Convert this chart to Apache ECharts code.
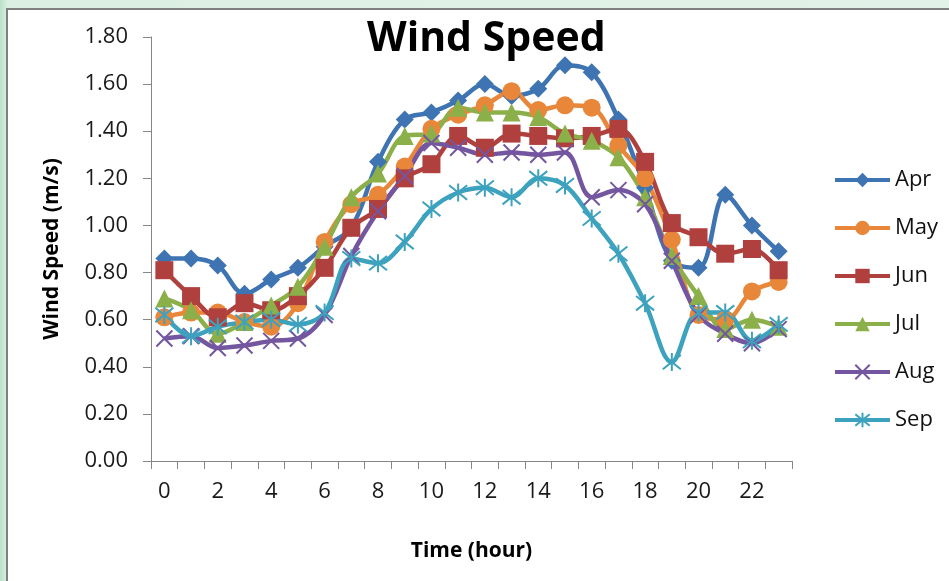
<!DOCTYPE html>
<html>
<head>
<meta charset="utf-8">
<script src="https://cdn.jsdelivr.net/npm/echarts@6/dist/echarts.min.js"></script>
<style>
  html, body { margin: 0; padding: 0; }
  body {
    width: 949px; height: 581px; overflow: hidden; position: relative;
    background: linear-gradient(to right, #b9e0c9 0px, #dcefe3 8px, #e3f2e8 100%);
  }
  #frame {
    position: absolute; left: 6px; top: 8px; width: 960px; height: 600px;
    background: #fff; border-left: 2px solid #7f7f7f; border-top: 2px solid #7f7f7f;
  }
  #chart { position: absolute; left: 0; top: 0; width: 949px; height: 581px; }
</style>
</head>
<body>
<div id="frame"></div>
<div id="chart"></div>
<script>
  // hours on the x axis
  const hours = ['0','1','2','3','4','5','6','7','8','9','10','11','12','13','14','15','16','17','18','19','20','21','22','23'];

  // wind speed per month (m/s)
  const apr = [0.86,0.86,0.83,0.71,0.77,0.82,0.91,0.99,1.27,1.45,1.48,1.53,1.60,1.55,1.58,1.68,1.65,1.45,1.16,0.85,0.82,1.13,1.00,0.89];
  const may = [0.61,0.63,0.63,0.59,0.57,0.67,0.93,1.09,1.13,1.25,1.41,1.47,1.51,1.57,1.49,1.51,1.50,1.34,1.20,0.94,0.62,0.60,0.72,0.76];
  const jun = [0.81,0.70,0.61,0.67,0.64,0.70,0.82,0.99,1.07,1.20,1.26,1.38,1.33,1.39,1.38,1.37,1.38,1.41,1.27,1.01,0.95,0.88,0.90,0.81];
  const jul = [0.69,0.64,0.54,0.59,0.66,0.74,0.91,1.12,1.22,1.38,1.39,1.50,1.48,1.48,1.46,1.39,1.36,1.29,1.12,0.87,0.70,0.56,0.60,0.57];
  const aug = [0.52,0.53,0.48,0.49,0.51,0.52,0.62,0.87,1.06,1.21,1.35,1.33,1.30,1.31,1.30,1.31,1.12,1.15,1.09,0.85,0.62,0.54,0.50,0.56];
  const sep = [0.62,0.53,0.57,0.59,0.60,0.58,0.63,0.86,0.84,0.93,1.07,1.14,1.16,1.12,1.20,1.17,1.03,0.88,0.67,0.42,0.63,0.63,0.51,0.58];

  const months = ['Apr', 'May', 'Jun', 'Jul', 'Aug', 'Sep'];
  const values = [apr, may, jun, jul, aug, sep];
  const colors = ['#3f74b3', '#e8873a', '#b0403d', '#8bb04a', '#7456a0', '#3da2be'];

  // excel-like markers: diamond, circle, square, triangle, x, star
  const xPath = 'path://M0,0 L10,10 M10,0 L0,10';
  const starPath = 'path://M1,1 L9,9 M9,1 L1,9 M5,0 L5,10';
  const symbols = ['diamond', 'circle', 'rect', 'triangle', xPath, starPath];
  const sizes = [18, 18, 18, 18, 16, 18];

  const font = '"Open Sans", "DejaVu Sans", sans-serif';

  const chart = echarts.init(document.getElementById('chart'));

  const series = months.map((m, i) => {
    const stroked = i >= 4;
    return {
      name: m,
      type: 'line',
      data: values[i],
      smooth: 0.35,
      symbol: symbols[i],
      symbolSize: sizes[i],
      showAllSymbol: true,
      lineStyle: { color: colors[i], width: 4.5 },
      itemStyle: {
        color: colors[i],
        borderColor: colors[i],
        borderWidth: stroked ? 2 : 0
      }
    };
  });

  chart.setOption({
    backgroundColor: 'transparent',
    animation: false,
    color: colors,
    title: {
      text: 'Wind Speed',
      left: 362,
      top: 14,
      textStyle: { fontFamily: font, fontSize: 41, fontWeight: 'bold', color: '#000' }
    },
    legend: {
      orient: 'vertical',
      left: 828,
      top: 163,
      itemWidth: 55,
      itemHeight: 18,
      itemGap: 24,
      lineStyle: { width: 4 },
      textStyle: { fontFamily: font, fontSize: 22, color: '#111', lineHeight: 24 },
      data: months
    },
    grid: { left: 151, top: 37, width: 641, height: 424 },
    xAxis: {
      type: 'category',
      data: hours,
      boundaryGap: true,
      name: 'Time (hour)',
      nameLocation: 'middle',
      nameGap: 80,
      nameTextStyle: { fontFamily: font, fontSize: 21, fontWeight: 'bold', color: '#000' },
      axisLine: { lineStyle: { color: '#868686', width: 1 } },
      axisTick: { show: true, interval: 0, length: 8, lineStyle: { color: '#868686' } },
      axisLabel: { interval: 1, margin: 20, fontFamily: font, fontSize: 22, color: '#1a1a1a' }
    },
    yAxis: {
      type: 'value',
      min: 0,
      max: 1.8,
      interval: 0.2,
      name: 'Wind Speed (m/s)',
      nameLocation: 'middle',
      nameGap: 88,
      nameTextStyle: { fontFamily: font, fontSize: 21, fontWeight: 'bold', color: '#000' },
      splitLine: { show: false },
      axisLine: { show: true, lineStyle: { color: '#868686', width: 1 } },
      axisTick: { show: true, length: 8, lineStyle: { color: '#868686' } },
      axisLabel: {
        margin: 23, fontFamily: font, fontSize: 22, color: '#1a1a1a',
        formatter: v => v.toFixed(2)
      }
    },
    series: series
  });
</script>
</body>
</html>
